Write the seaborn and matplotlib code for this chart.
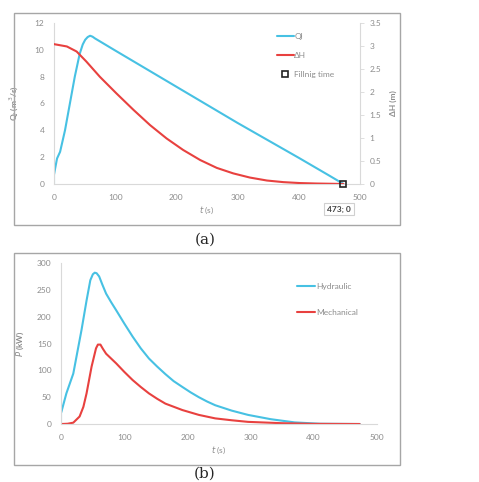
import numpy as np
import pandas as pd
import seaborn as sns
import matplotlib.pyplot as plt
from matplotlib.lines import Line2D
from matplotlib.patches import Rectangle

# (a) discharge Ql and head difference dH vs time
t_q = [0, 0, 5, 10, 18, 26, 34, 42, 47, 51, 55, 59, 63, 67, 100, 150, 200, 250, 300, 350, 400, 450, 473]
q_l = [0, 1.4, 1.9, 2.4, 4.0, 6.0, 8.0, 9.7, 10.4, 10.75, 10.95, 11.05, 10.98, 10.85, 9.95, 8.6, 7.25, 5.9, 4.55, 3.25, 1.95, 0.62, 0]

t_h = [0, 21, 37, 53, 75, 102, 130, 157, 184, 211, 239, 266, 293, 320, 348, 375, 402, 429, 473]
d_h = [3.04, 2.99, 2.88, 2.66, 2.33, 1.97, 1.61, 1.28, 0.99, 0.74, 0.52, 0.35, 0.23, 0.14, 0.075, 0.04, 0.02, 0.01, 0]

fill_t = [473]
fill_h = [0]

# (b) power vs time
t_ph = [0, 0, 8, 19, 32, 40, 46, 50, 53, 56, 60, 65, 71, 79, 87, 100, 113, 126, 139, 152, 165, 178,
        192, 205, 218, 231, 244, 270, 296, 332, 370, 410, 473]
p_hyd = [0, 44, 57, 94, 175, 230, 268, 279, 282, 281, 275, 260, 243, 227, 212, 187, 163, 141, 122, 107, 93, 80,
         69, 59, 50, 42, 35, 25, 17, 9, 3, 0.5, 0]

t_pm = [0, 10, 19, 29, 35, 40, 48, 55, 58, 62, 66, 71, 79, 87, 100, 113, 126, 139, 152, 165, 192, 218,
        244, 270, 296, 350, 400, 473]
p_mech = [0, 0.5, 2.5, 14, 32, 57, 107, 141, 148, 148, 140, 131, 122, 113, 97, 82, 69, 57, 47, 38, 26, 17,
          10.5, 7, 4, 1.5, 0.3, 0]

CYAN = "#47c1e3"
RED = "#e8413f"
GRAY = "#8c8c8c"
SPINE = "#d9d9d9"

sns.set_theme(style="white")
plt.rcParams["font.family"] = ["Lato", "DejaVu Sans"]
plt.rcParams["mathtext.fontset"] = "dejavusans"

fig = plt.figure(figsize=(4.79, 4.82), dpi=100)

# chart area frames (Excel look)
for y0 in [0.533, 0.0353]:
    fig.patches.append(Rectangle((0.0292, y0), 0.806, 0.44, transform=fig.transFigure,
                                 fill=False, edgecolor="#a6a6a6", linewidth=1.0))


def style_axis(ax):
    for s in ["top", "right"]:
        ax.spines[s].set_visible(False)
    for s in ["left", "bottom"]:
        ax.spines[s].set_color(SPINE)
        ax.spines[s].set_linewidth(0.8)
    ax.tick_params(axis="both", length=0, labelsize=6, colors=GRAY)
    ax.tick_params(axis="y", pad=7)
    ax.tick_params(axis="x", pad=7)


# ---- panel (a)
ax1 = fig.add_axes([0.1127, 0.6183, 0.6388, 0.334])
df_q = pd.DataFrame({"t": t_q, "q": q_l})
sns.lineplot(data=df_q, x="t", y="q", ax=ax1, color=CYAN, linewidth=1.5, sort=False)
ax1.set_xlim(0, 500)
ax1.set_ylim(0, 12)
ax1.set_xticks(range(0, 501, 100))
ax1.set_yticks(range(0, 13, 2))
style_axis(ax1)
ax1.set_xlabel("$t$ (s)", fontsize=6, color=GRAY, labelpad=3)
ax1.set_ylabel("Q$_l$ (m$^3$/s)", fontsize=6, color=GRAY, labelpad=10, fontweight="bold")

ax2 = ax1.twinx()
df_h = pd.DataFrame({"t": t_h, "h": d_h})
sns.lineplot(data=df_h, x="t", y="h", ax=ax2, color=RED, linewidth=1.5, sort=False)
ax2.plot(fill_t, fill_h, marker="s", markersize=5, markerfacecolor="none",
         markeredgecolor="#222222", markeredgewidth=1.2, linestyle="none", clip_on=False)
ax2.set_ylim(0, 3.5)
ax2.set_yticks(np.arange(0, 3.51, 0.5))
ax2.set_yticklabels(["0", "0.5", "1", "1.5", "2", "2.5", "3", "3.5"])
for s in ["top", "left", "bottom"]:
    ax2.spines[s].set_visible(False)
ax2.spines["right"].set_color(SPINE)
ax2.spines["right"].set_linewidth(0.8)
ax2.tick_params(axis="y", length=3, width=0.6, labelsize=6, colors=GRAY, pad=4)
ax2.tick_params(axis="y", color=SPINE)
ax2.set_ylabel("ΔH (m)", fontsize=6, color=GRAY, labelpad=6, fontweight="bold")
ax2.annotate("473; 0", xy=(fill_t[0], fill_h[0]), xytext=(-3, -18), textcoords="offset points",
             ha="center", va="center", fontsize=6, color="#404040", fontweight="bold",
             bbox=dict(boxstyle="square,pad=0.35", fc="white", ec="#d0d0d0", lw=0.8))

handles_a = [Line2D([], [], color=CYAN, lw=1.5),
             Line2D([], [], color=RED, lw=1.5),
             Line2D([], [], marker="s", markersize=4.5, markerfacecolor="none",
                    markeredgecolor="#222222", markeredgewidth=1.2, linestyle="none")]
fig.legend(handles_a, ["Ql", "ΔH", "Fillnig time"], loc="upper left",
           bbox_to_anchor=(0.578, 0.932), frameon=False, fontsize=6,
           labelcolor=GRAY, handlelength=2.0, handletextpad=0.1,
           labelspacing=1.45, borderpad=0, borderaxespad=0)

fig.text(0.428, 0.502, "(a)", fontsize=11, family="DejaVu Serif", ha="center", va="center")

# ---- panel (b)
ax3 = fig.add_axes([0.128, 0.1203, 0.6584, 0.334])
df_ph = pd.DataFrame({"t": t_ph, "p": p_hyd})
df_pm = pd.DataFrame({"t": t_pm, "p": p_mech})
sns.lineplot(data=df_ph, x="t", y="p", ax=ax3, color=CYAN, linewidth=1.5, sort=False)
sns.lineplot(data=df_pm, x="t", y="p", ax=ax3, color=RED, linewidth=1.5, sort=False)
ax3.set_xlim(0, 500)
ax3.set_ylim(0, 300)
ax3.set_xticks(range(0, 501, 100))
ax3.set_yticks(range(0, 301, 50))
style_axis(ax3)
ax3.set_xlabel("$t$ (s)", fontsize=6, color=GRAY, labelpad=3)
ax3.set_ylabel("$P$ (kW)", fontsize=6, color=GRAY, labelpad=8, fontweight="bold")

handles_b = [Line2D([], [], color=CYAN, lw=1.5), Line2D([], [], color=RED, lw=1.5)]
fig.legend(handles_b, ["Hydraulic", "Mechanical"], loc="upper left",
           bbox_to_anchor=(0.620, 0.413), frameon=False, fontsize=6,
           labelcolor=GRAY, handlelength=2.2, handletextpad=0.1,
           labelspacing=2.25, borderpad=0, borderaxespad=0)

fig.text(0.428, 0.018, "(b)", fontsize=11, family="DejaVu Serif", ha="center", va="center")

fig.savefig("out.png", dpi=100)
